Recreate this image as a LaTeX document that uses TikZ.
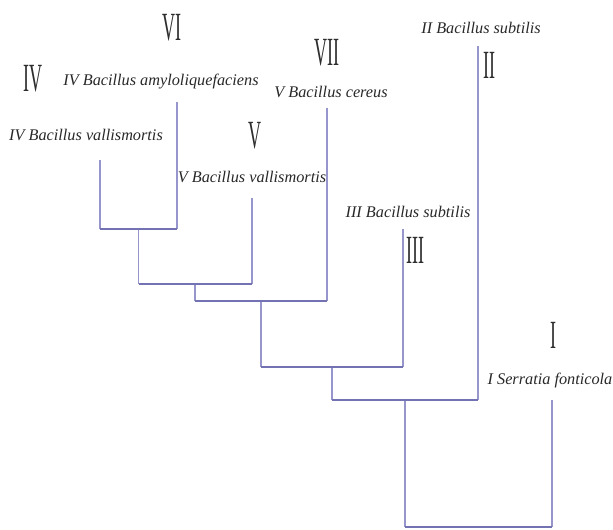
\documentclass[tikz,border=0pt]{standalone}
\usepackage{fontspec}
\setmainfont{Liberation Serif}
\begin{document}
\begin{tikzpicture}[x=0.75pt,y=-0.75pt,
  vline/.style={draw={rgb,255:red,150;green,150;blue,205},line width=0.9pt},
  hline/.style={draw={rgb,255:red,115;green,115;blue,180},line width=1.3pt},
  taxon/.style={font=\fontsize{12.2}{14}\selectfont\itshape,text={rgb,255:red,40;green,40;blue,40},inner sep=1pt},
  numeral/.style={text={rgb,255:red,45;green,45;blue,45},inner sep=0pt}]
\useasboundingbox (0,0) rectangle (613,529);
\newcommand{\romnum}[1]{\scalebox{0.45}[1]{\fontsize{30}{30}\selectfont #1}}

% leaf tops
\coordinate (l1) at (100,160);
\coordinate (l2) at (177,102);
\coordinate (l3) at (252,198);
\coordinate (l4) at (327,108);
\coordinate (l5) at (403,229);
\coordinate (l6) at (478,46);
\coordinate (l7) at (552,400);

% joins: left end (a), right end (b), midpoint (m)
\coordinate (a1) at (100,229);  \coordinate (b1) at (177,229);  \coordinate (m1) at (138.5,229);
\coordinate (a2) at (138.5,284);\coordinate (b2) at (252,284);  \coordinate (m2) at (195,284);
\coordinate (a3) at (195,301);  \coordinate (b3) at (327,301);  \coordinate (m3) at (261,301);
\coordinate (a4) at (261,367);  \coordinate (b4) at (403,367);  \coordinate (m4) at (332,367);
\coordinate (a5) at (332,400);  \coordinate (b5) at (478,400);  \coordinate (m5) at (405,400);
\coordinate (a6) at (405,527);  \coordinate (b6) at (552,527);

% vertical branches
\draw[vline] (l1) -- (a1);
\draw[vline] (l2) -- (b1);
\draw[vline] (m1) -- (a2);
\draw[vline] (l3) -- (b2);
\draw[vline] (m2) -- (a3);
\draw[vline] (l4) -- (b3);
\draw[vline] (m3) -- (a4);
\draw[vline] (l5) -- (b4);
\draw[vline] (m4) -- (a5);
\draw[vline] (l6) -- (b5);
\draw[vline] (m5) -- (a6);
\draw[vline] (l7) -- (b6);

% horizontal joins
\draw[hline] (a1) -- (b1);
\draw[hline] (a2) -- (b2);
\draw[hline] (a3) -- (b3);
\draw[hline] (a4) -- (b4);
\draw[hline] (a5) -- (b5);
\draw[hline] (a6) -- (b6);

% taxon labels
\node[taxon] (t1) at (86,135)  {IV Bacillus vallismortis};
\node[taxon] (t2) at (161,82)  {IV Bacillus amyloliquefaciens};
\node[taxon] (t3) at (252,177) {V Bacillus vallismortis};
\node[taxon] (t4) at (331,92)  {V Bacillus cereus};
\node[taxon] (t5) at (408,212) {III Bacillus subtilis};
\node[taxon] (t6) at (481,28)  {II Bacillus subtilis};
\node[taxon] (t7) at (550,380) {I Serratia fonticola};

% group numerals
\node[numeral] (n4) at (33,79)   {\romnum{IV}};
\node[numeral] (n6) at (172,28)  {\romnum{VI}};
\node[numeral] (n5) at (255,136) {\romnum{V}};
\node[numeral] (n7) at (327,53)  {\romnum{VII}};
\node[numeral] (n2) at (489,65)  {\romnum{II}};
\node[numeral] (n3) at (415,250) {\romnum{III}};
\node[numeral] (n1) at (553,335) {\romnum{I}};
\end{tikzpicture}
\end{document}
